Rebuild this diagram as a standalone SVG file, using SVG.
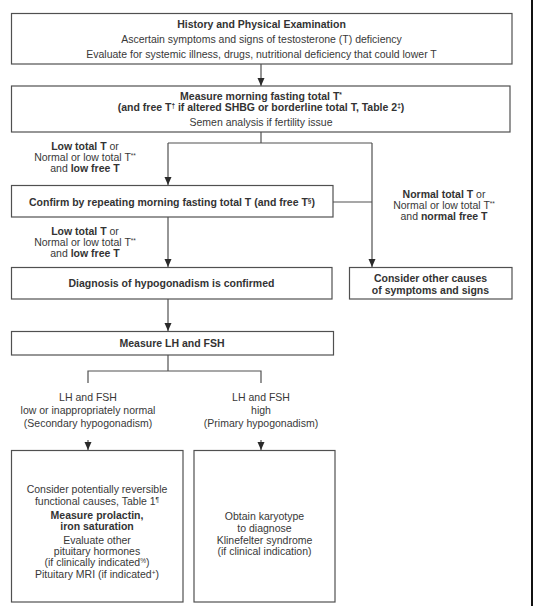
<svg xmlns="http://www.w3.org/2000/svg" width="542" height="611" viewBox="0 0 542 611">
<style>
text{font-family:"Liberation Sans",Arial,Helvetica,sans-serif;font-size:10.5px;fill:#383838;text-anchor:middle}
.b{font-weight:bold;fill:#333}
.box{fill:#fff;stroke:#505050;stroke-width:1.2}
.ln{fill:none;stroke:#505050;stroke-width:1.2}
.sup{font-size:6.5px}
</style>
<defs>
<marker id="ah" markerWidth="10" markerHeight="10" refX="8" refY="3.5" orient="auto" markerUnits="userSpaceOnUse">
<path d="M0,0 L8,3.5 L0,7 z" fill="#2a2a2a"/>
</marker>
</defs>
<rect width="542" height="611" fill="#fff"/>
<g id="connectors">
<line class="ln" x1="261" y1="64" x2="261" y2="86" marker-end="url(#ah)"/>
<polyline class="ln" points="261,132 261,143"/>
<polyline class="ln" points="168,143 372,143"/>
<line class="ln" x1="168" y1="143" x2="168" y2="185" marker-end="url(#ah)"/>
<line class="ln" x1="372" y1="143" x2="372" y2="267" marker-end="url(#ah)"/>
<polyline class="ln" points="333,202 372,202"/>
<line class="ln" x1="168" y1="217" x2="168" y2="267" marker-end="url(#ah)"/>
<line class="ln" x1="168" y1="299" x2="168" y2="331" marker-end="url(#ah)"/>
<polyline class="ln" points="168,355 168,371"/>
<polyline class="ln" points="88,383 88,371 261,371 261,383"/>
<line class="ln" x1="88" y1="440" x2="88" y2="450" marker-end="url(#ah)"/>
<line class="ln" x1="261" y1="440" x2="261" y2="450" marker-end="url(#ah)"/>
<text x="85" y="150"><tspan class="b">Low total T</tspan> or</text>
<text x="85" y="161">Normal or low total T<tspan class="sup" dy="-3">**</tspan></text>
<text x="85" y="172">and <tspan class="b">low free T</tspan></text>
<text x="85" y="235"><tspan class="b">Low total T</tspan> or</text>
<text x="85" y="246">Normal or low total T<tspan class="sup" dy="-3">**</tspan></text>
<text x="85" y="257">and <tspan class="b">low free T</tspan></text>
<text x="444" y="197.5"><tspan class="b">Normal total T</tspan> or</text>
<text x="444" y="208.5">Normal or low total T<tspan class="sup" dy="-3">**</tspan></text>
<text x="444" y="219.5">and <tspan class="b">normal free T</tspan></text>
<text x="88" y="400.5">LH and FSH</text>
<text x="88" y="413.5">low or inappropriately normal</text>
<text x="88" y="426.5">(Secondary hypogonadism)</text>
<text x="261" y="400.5">LH and FSH</text>
<text x="261" y="413.5">high</text>
<text x="261" y="426.5">(Primary hypogonadism)</text>
</g>
<g id="history">
<rect class="box" x="11.5" y="13.5" width="500.5" height="50.5"/>
<text class="b" x="261.5" y="28">History and Physical Examination</text>
<text x="261.5" y="43">Ascertain symptoms and signs of testosterone (T) deficiency</text>
<text x="261.5" y="58">Evaluate for systemic illness, drugs, nutritional deficiency that could lower T</text>
</g>
<g id="measure-t">
<rect class="box" x="11.5" y="86" width="498.5" height="46"/>
<text class="b" x="261" y="99.5">Measure morning fasting total T<tspan class="sup" dy="-3">*</tspan></text>
<text class="b" x="261" y="110.5">(and free T<tspan class="sup" dy="-3">†</tspan><tspan dy="3"> if altered SHBG or borderline total T, Table 2</tspan><tspan class="sup" dy="-3">‡</tspan><tspan dy="3">)</tspan></text>
<text x="261" y="125.5">Semen analysis if fertility issue</text>
</g>
<g id="confirm">
<rect class="box" x="11.5" y="185.5" width="321.5" height="31.5"/>
<text class="b" x="172" y="205.5">Confirm by repeating morning fasting total T (and free T<tspan class="sup" dy="-3">§</tspan><tspan dy="3">)</tspan></text>
</g>
<g id="diagnosis">
<rect class="box" x="11.5" y="267.5" width="320.5" height="31.5"/>
<text class="b" x="171.5" y="287">Diagnosis of hypogonadism is confirmed</text>
</g>
<g id="other-causes">
<rect class="box" x="349.5" y="267.5" width="162.5" height="31.5"/>
<text class="b" x="430.5" y="282">Consider other causes</text>
<text class="b" x="430.5" y="293.5">of symptoms and signs</text>
</g>
<g id="measure-lh">
<rect class="box" x="11.5" y="331.5" width="322" height="23.5"/>
<text class="b" x="172" y="347">Measure LH and FSH</text>
</g>
<g id="secondary">
<rect class="box" x="11.5" y="450.5" width="171.5" height="151.5"/>
<text x="97" y="493">Consider potentially reversible</text>
<text x="97" y="505">functional causes, Table 1<tspan class="sup" dy="-3">¶</tspan></text>
<text class="b" x="97" y="518.5">Measure prolactin,</text>
<text class="b" x="97" y="530">iron saturation</text>
<text x="97" y="544">Evaluate other</text>
<text x="97" y="555">pituitary hormones</text>
<text x="97" y="566">(if clinically indicated<tspan class="sup" dy="-3">%</tspan><tspan dy="3">)</tspan></text>
<text x="97" y="577.5">Pituitary MRI (if indicated<tspan class="sup" dy="-3">+</tspan><tspan dy="3">)</tspan></text>
</g>
<g id="primary">
<rect class="box" x="194" y="450.5" width="141" height="151.5"/>
<text x="264.5" y="520">Obtain karyotype</text>
<text x="264.5" y="531.5">to diagnose</text>
<text x="264.5" y="544">Klinefelter syndrome</text>
<text x="264.5" y="555">(if clinical indication)</text>
</g>
<line x1="532" y1="0" x2="532" y2="606" stroke="#111" stroke-width="2"/>
</svg>
